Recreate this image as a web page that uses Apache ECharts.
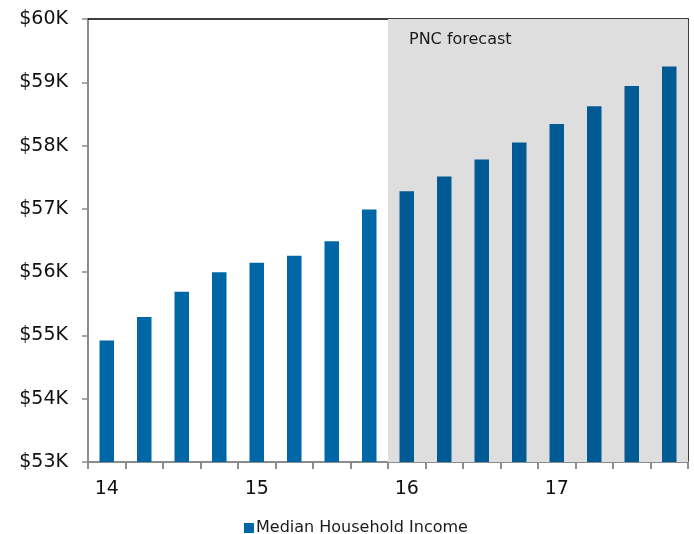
<!DOCTYPE html>
<html>
<head>
<meta charset="utf-8">
<script src="https://cdn.jsdelivr.net/npm/echarts@6/dist/echarts.min.js"></script>
<style>
  html, body { margin: 0; padding: 0; background: #fff; }
  #chart { width: 694px; height: 534px; }
</style>
</head>
<body>
<div id="chart"></div>
<script>
// Quarterly median household income, 2014-2017 (forecast from 1Q16)
const quarters = ['1Q14','2Q14','3Q14','4Q14','1Q15','2Q15','3Q15','4Q15',
                  '1Q16','2Q16','3Q16','4Q16','1Q17','2Q17','3Q17','4Q17'];
const yearLabels = ['14', '15', '16', '17'];
const income = [54920, 55290, 55690, 56000, 56150, 56260, 56490, 56990,
                57280, 57510, 57780, 58050, 58340, 58620, 58940, 59250];
const forecastStart = 8;              // index of the first forecast quarter
const seriesName = 'Median Household Income';
const forecastLabel = 'PNC forecast';

const FONT = 'DejaVu Sans';
const histColor = '#0067A6';
const fcstColor = '#005A94';

const barData = income.map((v, i) => ({
  value: v,
  itemStyle: { color: i >= forecastStart ? fcstColor : histColor }
}));

const chart = echarts.init(document.getElementById('chart'), null, { renderer: 'canvas' });
chart.setOption({
  animation: false,
  backgroundColor: '#ffffff',
  textStyle: { fontFamily: FONT },
  grid: { left: 88, right: 6, top: 19, bottom: 72 },
  legend: {
    left: 239, top: 515,
    icon: 'rect', itemWidth: 10, itemHeight: 10, itemGap: 10,
    textStyle: { fontFamily: FONT, fontSize: 16, color: '#1a1a1a', padding: [0, 0, 0, -3] },
    data: [{ name: seriesName, itemStyle: { color: histColor } }]
  },
  xAxis: [
    {
      type: 'category',
      data: quarters,
      boundaryGap: true,
      axisLine: { lineStyle: { color: '#8c8c8c', width: 2 } },
      axisTick: { show: true, interval: 0, length: 7, lineStyle: { color: '#8c8c8c', width: 2 } },
      axisLabel: {
        interval: 0,
        margin: 18,
        fontFamily: FONT, fontSize: 19, color: '#111',
        formatter: (v, i) => (i % 4 === 0 ? yearLabels[i / 4] : '')
      },
      splitLine: { show: false }
    },
    {
      type: 'value',
      position: 'top',
      min: 0, max: quarters.length,
      axisLine: { show: true, onZero: false, lineStyle: { color: '#000', width: 1.5 } },
      axisTick: { show: false },
      axisLabel: { show: false },
      splitLine: { show: false }
    }
  ],
  yAxis: [
    {
      type: 'value',
      min: 53000, max: 60000, interval: 1000,
      axisLine: { show: true, lineStyle: { color: '#8c8c8c', width: 2 } },
      axisTick: { show: true, length: 6, lineStyle: { color: '#8c8c8c', width: 1.5 } },
      axisLabel: {
        margin: 20,
        fontFamily: FONT, fontSize: 19, color: '#111',
        formatter: v => '$' + (v / 1000) + 'K'
      },
      splitLine: { show: false }
    },
    {
      type: 'value',
      position: 'right',
      min: 53000, max: 60000, interval: 1000,
      axisLine: { show: true, lineStyle: { color: '#000', width: 1.5 } },
      axisTick: { show: false },
      axisLabel: { show: false },
      splitLine: { show: false }
    }
  ],
  series: [
    {
      // shaded forecast band
      type: 'line',
      xAxisIndex: 1,
      yAxisIndex: 0,
      data: [],
      silent: true,
      z: 1,
      markArea: {
        silent: true,
        itemStyle: { color: '#dedede' },
        label: {
          show: true,
          position: 'insideTopLeft',
          distance: 0,
          offset: [21, 13],
          fontFamily: FONT, fontSize: 16, color: '#1a1a1a'
        },
        data: [[
          { name: forecastLabel, xAxis: forecastStart },
          { xAxis: quarters.length }
        ]]
      }
    },
    {
      name: seriesName,
      type: 'bar',
      xAxisIndex: 0,
      yAxisIndex: 0,
      barWidth: 14.5,
      z: 3,
      itemStyle: { color: histColor },
      data: barData
    }
  ]
});
</script>
</body>
</html>
